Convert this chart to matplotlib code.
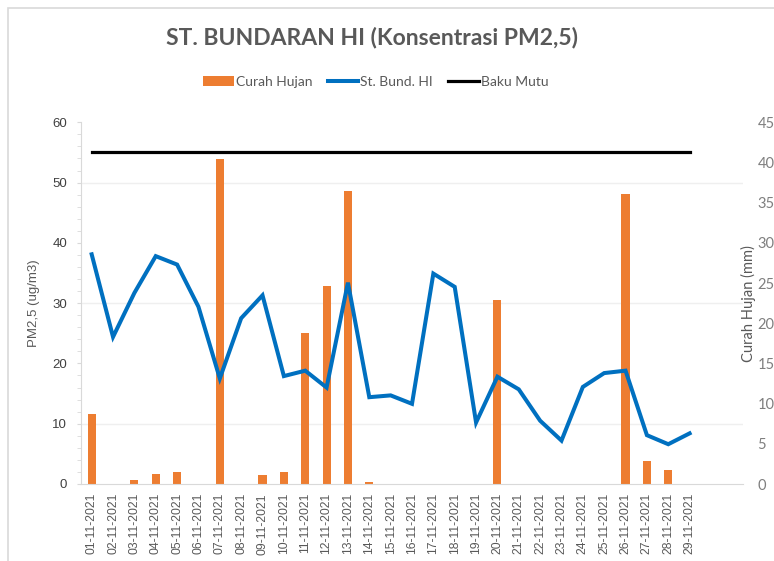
import matplotlib
matplotlib.use("Agg")
import matplotlib.pyplot as plt
from matplotlib.patches import Patch, Rectangle
from matplotlib.lines import Line2D
import numpy as np

# data
dates = ["01-11-2021", "02-11-2021", "03-11-2021", "04-11-2021", "05-11-2021",
         "06-11-2021", "07-11-2021", "08-11-2021", "09-11-2021", "10-11-2021",
         "11-11-2021", "12-11-2021", "13-11-2021", "14-11-2021", "15-11-2021",
         "16-11-2021", "17-11-2021", "18-11-2021", "19-11-2021", "20-11-2021",
         "21-11-2021", "22-11-2021", "23-11-2021", "24-11-2021", "25-11-2021",
         "26-11-2021", "27-11-2021", "28-11-2021", "29-11-2021"]
pm25 = [38.1, 24.4, 31.7, 37.8, 36.4, 29.4, 17.5, 27.5, 31.3, 17.9,
        18.8, 16.0, 33.4, 14.4, 14.7, 13.3, 34.9, 32.7, 10.2, 17.8,
        15.7, 10.5, 7.2, 16.1, 18.4, 18.8, 8.1, 6.6, 8.4]
curah_hujan = [8.7, 0, 0.5, 1.2, 1.5, 0, 40.4, 0, 1.1, 1.5,
               18.8, 24.6, 36.4, 0.2, 0, 0, 0, 0, 0, 22.9,
               0, 0, 0, 0, 0, 36.1, 2.9, 1.7, 0]
baku_mutu = [55] * len(dates)
n_slots = 31  # category axis has room for 31 days (30 and 31 are blank)

ORANGE = "#ED7D31"
BLUE = "#0070C0"
GRID = "#EFEFEF"
AXIS = "#D9D9D9"
TXT = "#595959"

x = np.arange(len(dates))

fig = plt.figure(figsize=(7.74, 5.61), dpi=100)
ax = fig.add_axes([81 / 774, 1 - 484 / 561, 662 / 774, 361.7 / 561])
ax2 = ax.twinx()

# bars on the right axis, lines drawn on top
ax2.bar(x, curah_hujan, width=0.38, color=ORANGE, zorder=2)
ax.plot(x, pm25, color=BLUE, lw=2.9, solid_joinstyle="miter", zorder=3)
ax.plot(x, baku_mutu, color="black", lw=2.3, zorder=3)

ax.set_zorder(ax2.get_zorder() + 1)
ax.patch.set_visible(False)

ax.set_xlim(-0.5, n_slots - 0.5)
ax.set_ylim(0, 60)
ax2.set_ylim(0, 45)

ax.set_yticks(np.arange(0, 61, 10))
ax.set_yticks(np.arange(0, 61, 2), minor=True)
ax2.set_yticks(np.arange(0, 46, 5))

# gridlines behind bars, placed on ax2 so they line up with left major ticks
ax2.set_yticks(np.arange(0, 46, 7.5), minor=True)
ax2.yaxis.grid(True, which="minor", color=GRID, lw=1.0)
ax2.set_axisbelow(True)

ax.set_xticks(x)
ax.set_xticklabels(dates, rotation=90, fontsize=8.7, color=TXT,
                   family="Liberation Sans")
ax.tick_params(axis="x", length=0, pad=6.5)
ax.tick_params(axis="y", which="both", length=3, color=AXIS, pad=7,
               labelsize=9.5, labelcolor="#404040")
for lab in ax.get_yticklabels():
    lab.set_family("Liberation Sans")
ax2.tick_params(axis="y", which="both", length=0, pad=10.5,
                labelsize=10.5, labelcolor="#7F7F7F")
for lab in ax2.get_yticklabels():
    lab.set_family("Lato")

for a in (ax, ax2):
    for s in ("top", "right"):
        a.spines[s].set_visible(False)
    a.spines["left"].set_color(AXIS)
    a.spines["bottom"].set_color(AXIS)
ax2.spines["left"].set_visible(False)
ax2.spines["bottom"].set_visible(False)

ax.set_ylabel("PM2,5 (ug/m3)", fontsize=9.5, color=TXT, family="Liberation Sans")
ax.yaxis.set_label_coords(-0.062, 0.5)
ax2.set_ylabel("Curah Hujan (mm)", fontsize=10.5, color=TXT, family="Lato")
ax2.yaxis.set_label_coords(0.997, 0.5)

fig.text(372 / 774, 1 - 38 / 561, "ST. BUNDARAN HI (Konsentrasi PM2,5)",
         ha="center", va="center", fontsize=16.5, fontweight="bold",
         color=TXT, family="Lato")

handles = [Patch(facecolor=ORANGE, edgecolor="none"),
           Line2D([], [], color=BLUE, lw=2.9),
           Line2D([], [], color="black", lw=2.3)]
fig.legend(handles, ["Curah Hujan", "St. Bund. HI", "Baku Mutu"],
           loc="center", bbox_to_anchor=(376 / 774, 1 - 82 / 561), ncol=3,
           frameon=False, prop={"family": "Lato", "size": 10},
           labelcolor=TXT, handlelength=2.2, handletextpad=0.15,
           columnspacing=1.1)

# chart area border
fig.patches.append(Rectangle((7.5 / 774, -0.05), 1.2, 1.05 - 7.5 / 561,
                             transform=fig.transFigure, fill=False,
                             edgecolor=AXIS, lw=1.2))

fig.savefig("out.png", dpi=100)
